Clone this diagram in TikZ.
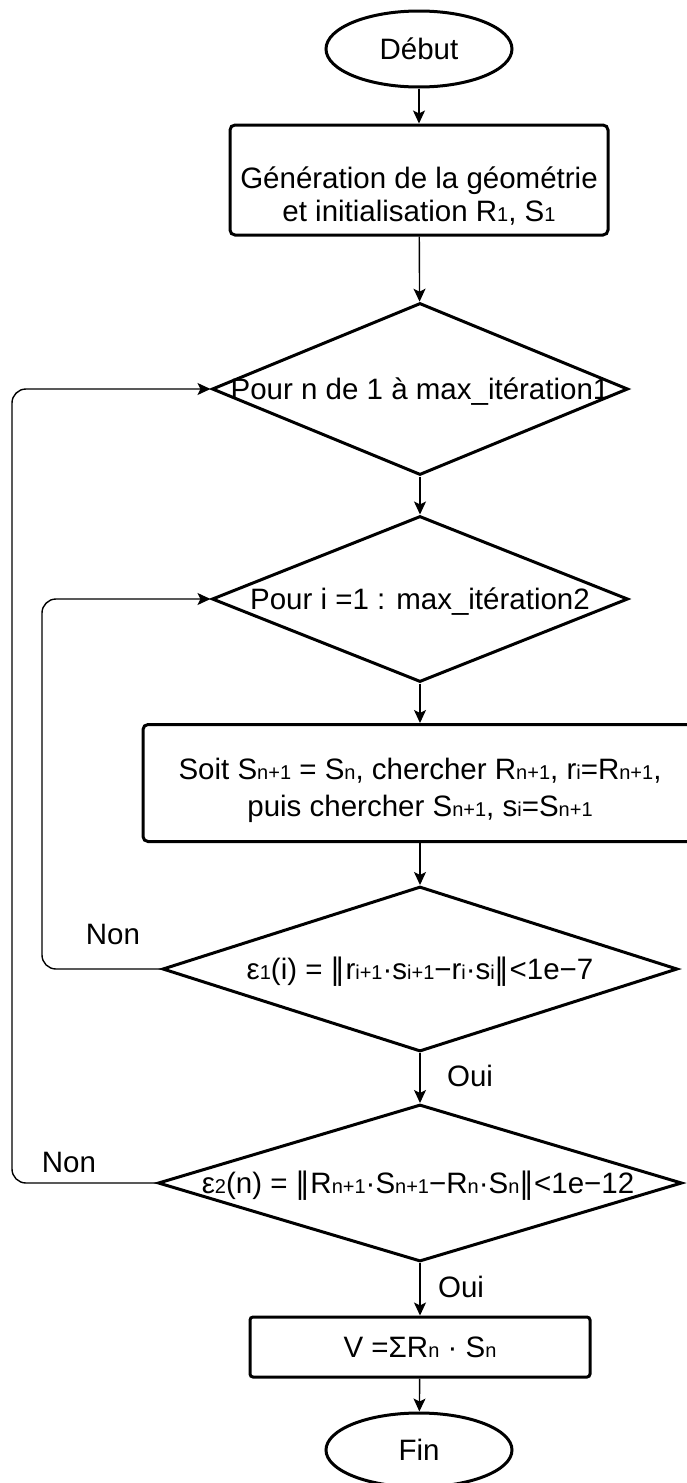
\documentclass[tikz,border=0pt]{standalone}
\usepackage{fontspec}
\setmainfont{Liberation Sans}
\newfontfamily\dejavu{DejaVu Sans}
\usetikzlibrary{shapes.geometric,arrows.meta}
\newcommand\sbs[1]{{\fontsize{20}{20}\selectfont #1}}
\newcommand\dbar{{\dejavu ‖}}
\begin{document}
\begin{tikzpicture}[x=1pt,y=-1pt,
  every node/.style={font=\fontsize{29.5}{33}\selectfont},
  shp/.style={draw, line width=3pt, fill=white},
  term/.style={shp, ellipse, minimum width=186pt, minimum height=76pt, inner sep=0pt},
  proc/.style={shp, rectangle, rounded corners=5pt, inner sep=0pt},
  dia/.style={shp, diamond, inner sep=0pt},
  txt/.style={align=center, inner sep=0pt},
  conn/.style={line width=1.4pt, -{Stealth[length=13pt,width=12pt,inset=3pt]}},
  loopc/.style={conn, rounded corners=14pt},
  lbl/.style={inner sep=0pt}]
\useasboundingbox (0,0) rectangle (686,1483);
\node[term] (deb) at (419,49) {Début};
\node[proc, minimum width=378pt, minimum height=110pt] (gen) at (419,180) {};
\node[txt] (gent) at (419,196) {Génération de la géométrie\\et initialisation R\sbs{1}, S\sbs{1}};
\node[dia, minimum width=416pt, minimum height=172pt] (d1) at (420,389) {};
\node[txt] (d1t) at (420,392) {Pour n de 1 à max\_itération1};
\node[dia, minimum width=416pt, minimum height=166pt] (d2) at (420,599) {};
\node[txt] (d2t) at (420,602) {Pour i =1 : max\_itération2};
\node[proc, minimum width=554pt, minimum height=117pt] (b2) at (420,783) {};
\node[txt] (b2t) at (420,790) {Soit S\sbs{n+1} = S\sbs{n}, chercher R\sbs{n+1}, r\sbs{i}=R\sbs{n+1},\\[4pt]puis chercher S\sbs{n+1}, s\sbs{i}=S\sbs{n+1}};
\node[dia, minimum width=515pt, minimum height=165pt] (d3) at (420,969) {};
\node[txt] (d3t) at (420,972) {ε\sbs{1}(i) = \dbar r\sbs{i+1}·s\sbs{i+1}−r\sbs{i}·s\sbs{i}\dbar<1e−7};
\node[dia, minimum width=524pt, minimum height=157pt] (d4) at (420,1183) {};
\node[txt] (d4t) at (418,1186) {ε\sbs{2}(n) = \dbar R\sbs{n+1}·S\sbs{n+1}−R\sbs{n}·S\sbs{n}\dbar<1e−12};
\node[proc, minimum width=340pt, minimum height=60pt, rounded corners=3pt] (v) at (420,1347) {V =ΣR\sbs{n} · S\sbs{n}};
\node[term, minimum height=74pt] (fin) at (419,1450) {Fin};
\node[lbl] (non1) at (113,934) {Non};
\node[lbl] (oui1) at (470,1076) {Oui};
\node[lbl] (non2) at (69,1162) {Non};
\node[lbl] (oui2) at (461,1287) {Oui};
\coordinate (l1) at (12,0);
\coordinate (l2) at (42,0);
\draw[conn] (deb) -- (gen);
\draw[conn] (gen) -- (d1);
\draw[conn] (d1) -- (d2);
\draw[conn] (d2) -- (b2);
\draw[conn] (b2) -- (d3);
\draw[conn] (d3) -- (d4);
\draw[conn] (d4) -- (v);
\draw[conn] (v) -- (fin);
\draw[loopc] (d3.west) -- (l2 |- d3.west) -- (l2 |- d2.west) -- (d2.west);
\draw[loopc] (d4.west) -- (l1 |- d4.west) -- (l1 |- d1.west) -- (d1.west);
\end{tikzpicture}
\end{document}
